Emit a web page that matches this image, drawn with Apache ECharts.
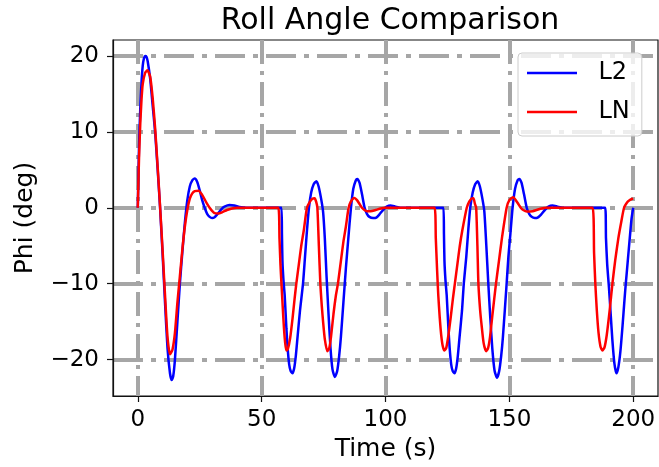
<!DOCTYPE html>
<html>
<head>
<meta charset="utf-8">
<script src="https://cdn.jsdelivr.net/npm/echarts@6/dist/echarts.min.js"></script>
<style>
  html, body { margin: 0; padding: 0; background: #fff; }
  #chart { width: 659px; height: 467px; }
</style>
</head>
<body>
<div id="chart"></div>
<script>
// values (time in s, roll angle in deg)
var l2Time = [
  0, 0.5, 1, 1.5, 2, 2.5, 3, 3.5, 4, 5, 6, 7, 8, 9, 10, 11, 12, 13, 13.7, 14.3,
  15, 16, 17, 18, 19, 20, 21, 22, 23, 24, 25, 26, 27, 28, 29, 30, 31, 32, 33, 34,
  35, 37, 39, 41, 44,
  58.0, 58.2, 58.4, 58.8, 59.3, 60, 60.5, 61.1, 61.7, 62.4, 63.1, 63.8, 64.5, 65.5,
  66.7, 67.5, 68.3, 69.1, 70, 71, 72.1, 73, 74, 74.8, 75.5, 76.2, 77, 77.8, 78.6,
  79.6, 80.5, 81.3, 82, 83, 84, 85, 86, 87, 88, 88.6, 89.5, 90.5, 91.5, 92.5, 93.5,
  95, 96.3, 97.5, 99, 100.5, 102, 104, 106,
  123.4, 123.6, 123.8, 124.2, 124.7, 125.4, 125.9, 126.5, 127.1, 127.8, 128.5, 129.2,
  129.9, 130.9, 131.6, 132.6, 133.4, 134.2, 135.2, 136.2, 137.2, 138.1, 139.1, 139.9,
  140.7, 141.5, 142.3, 143.1, 144, 145, 145.9, 146.7, 147.4, 148.9, 149.6, 150.4,
  151.3, 152.3, 153.3, 154, 154.9, 155.9, 157, 158, 159, 160.3, 161.4, 162.8, 164.3,
  165.8, 167.4, 169.4, 171.4,
  188.7, 189.0, 189.5, 190.2, 190.9, 191.6, 192.4, 193.2, 194, 194.8, 195.7, 196.5,
  197, 197.8, 198.6, 199.3, 200
];
var l2Phi = [
  0, 8, 13, 16.5, 18.7, 19.7, 20, 19.9, 19.3, 17, 13.5, 10, 5.2, 0, -6, -12.5, -18.5, -21.8, -22.7, -22.2,
  -20, -15, -10, -5.8, -2, 1, 2.8, 3.6, 3.85, 3.4, 2.3, 1, 0, -0.8, -1.2, -1.35, -1.25, -0.9, -0.5, -0.1,
  0.15, 0.35, 0.3, 0.1, 0,
  0, -3.5, -7, -9.5, -11.5, -15.9, -18.5, -20.6, -21.5, -21.8, -21.2, -19.5, -17, -13.5,
  -10, -6.5, -3, 0, 2, 3.1, 3.5, 2.8, 1.2, -0.5, -4, -9, -14, -18.5, -21.3,
  -22.3, -21.5, -19.5, -17, -12.5, -8, -4, -0.2, 2.5, 3.6, 3.8, 3.3, 1.8, 0.1, -0.8, -1.2,
  -1.35, -1.3, -0.9, -0.3, 0.15, 0.3, 0.15, 0,
  0, -3.5, -7, -9.5, -11.5, -15.9, -18.5, -20.6, -21.5, -21.8, -21.2, -19.5,
  -17, -13.5, -10, -6.5, -3, 0, 2, 3.1, 3.5, 2.8, 1.2, -0.5,
  -5, -10, -14.5, -18.5, -21.4, -22.4, -21.5, -19.5, -17, -10, -6.5, -3.5,
  0, 2.5, 3.6, 3.8, 3.3, 1.8, 0, -0.8, -1.2, -1.35, -1.3, -0.9, -0.3,
  0.15, 0.3, 0.15, 0,
  0, -4, -7.5, -10.5, -14, -17.5, -20.5, -21.8, -21, -19, -15.5, -12,
  -10, -7, -4, -1.5, 0
];

var lnTime = [
  0, 0.5, 1, 1.5, 2, 3, 3.9, 5, 6, 7, 8, 9, 10, 11, 12, 13, 14, 15, 16, 17,
  18, 19, 20, 21, 22, 23, 24.5, 26, 27, 28, 29, 30, 31, 32.5, 34, 36, 38, 40,
  56.7, 57.2, 57.6, 58, 58.5, 59, 59.5, 60, 60.6, 61.5, 62.5, 63.3, 64, 65, 66, 67,
  68.3, 69.5, 70.5, 71.4, 72, 72.5, 73.1, 73.7, 74.3, 74.8, 75.5, 76.5, 77.3, 78, 79,
  80, 80.8, 82, 83, 84, 85.1, 86, 87, 87.5, 88.5, 89.5, 90.5, 91.5, 92.5, 94, 96, 98, 100,
  119.8, 120.3, 120.8, 121.3, 121.9, 122.5, 123.1, 123.8, 124.5, 125.3, 126.3, 127.2,
  128, 129, 130, 131, 132.8, 133.8, 134.7, 135.5, 136.1, 136.6, 137.1, 137.5, 138.2,
  138.8, 139.6, 140.6, 141.4, 142.2, 143.2, 144.6, 145.8, 147, 148.9, 150, 151.6, 152.6,
  153.6, 154.6, 155.6, 157, 159.4, 161, 163, 165,
  183.6, 184.2, 184.7, 185.3, 186, 186.8, 187.6, 188.4, 189.3, 190.5, 191.6, 192.7,
  194, 195.2, 196.3, 197.5, 198.5, 199.4, 200
];
var lnPhi = [
  0, 6.5, 11, 14.2, 16.3, 17.8, 18.1, 17.3, 14.5, 10.5, 5.5, 0.2, -5.5, -11.5, -17, -19.3, -18.7, -16.5, -12.5, -9,
  -5.5, -2.5, -0.3, 1.2, 1.9, 2.2, 2.25, 1.7, 1.1, 0.5, 0, -0.4, -0.7, -0.75, -0.6, -0.3, -0.1, 0,
  0, -4, -7.5, -10, -13, -15.8, -17.8, -18.8, -18.6, -17.2, -14.5, -12, -10, -7.5, -5, -3,
  0, 0.8, 1.2, 1.25, 0.8, 0, -5, -10, -13, -15, -17.3, -18.9, -18.5, -17, -14,
  -11.5, -10, -7, -4.5, -2.5, 0, 0.8, 1.25, 1.3, 1.0, 0.5, 0, -0.3, -0.45, -0.45, -0.3, -0.1, 0,
  0, -4, -8, -11.5, -14.5, -16.8, -18.2, -18.8, -18.5, -17, -14.5, -12,
  -10, -7.5, -5, -3, 0, 0.8, 1.2, 1.25, 0.5, 0, -5, -10, -13.5,
  -15.5, -17.8, -18.9, -18.5, -17, -14, -10, -7, -4, 0, 1, 1.4, 1.0,
  0.5, 0, -0.3, -0.5, -0.45, -0.3, -0.1, 0,
  0, -6, -10, -13.5, -16.5, -18.3, -18.8, -18.4, -16.8, -13.5, -10, -7,
  -4, -1.8, 0, 0.7, 1.0, 1.15, 1.2
];

var xTicks = [0, 50, 100, 150, 200];
var yTicks = [-20, -10, 0, 10, 20];

function pairs(ts, vs) {
  return ts.map(function (t, i) { return [t, vs[i]]; });
}

var chart = echarts.init(document.getElementById('chart'), null, { renderer: 'canvas' });
var font = 'DejaVu Sans';
var lineIcon = 'path://M0,0 L100,0 L100,5 L0,5 Z';

var option = {
  animation: false,
  backgroundColor: '#fff',
  textStyle: { fontFamily: font },
  title: {
    text: 'Roll Angle Comparison',
    left: 385,
    top: 1,
    textAlign: 'center',
    textStyle: { fontFamily: font, fontSize: 30, fontWeight: 'normal', color: '#000' }
  },
  legend: {
    orient: 'vertical',
    left: 518,
    top: 53,
    padding: [8, 12, 12, 9],
    itemWidth: 55,
    itemHeight: 2.5,
    itemGap: 15,
    icon: lineIcon,
    backgroundColor: 'rgba(255,255,255,0.8)',
    borderColor: '#cccccc',
    borderWidth: 1,
    borderRadius: 4,
    textStyle: { fontFamily: font, fontSize: 24, color: '#000', padding: [0, 0, 0, 14] },
    data: ['L2', 'LN']
  },
  grid: {
    left: 113,
    right: 1,
    top: 40,
    bottom: 71,
    show: true,
    borderColor: '#111',
    borderWidth: 1.2
  },
  xAxis: {
    type: 'value',
    min: -10,
    max: 210,
    name: 'Time (s)',
    nameLocation: 'middle',
    nameGap: 38,
    nameTextStyle: { fontFamily: font, fontSize: 25, color: '#000' },
    axisLine: { show: true, onZero: false, lineStyle: { color: '#111', width: 1.2 } },
    axisTick: { show: true, customValues: xTicks, length: 6, lineStyle: { color: '#111', width: 1.2 } },
    axisLabel: { customValues: xTicks, margin: 13, fontFamily: font, fontSize: 23, color: '#000' },
    splitLine: { show: true, lineStyle: { color: '#a6a6a6', width: 4, type: [24, 7, 4, 7] } }
  },
  yAxis: {
    type: 'value',
    min: -24.8,
    max: 22.1,
    name: 'Phi (deg)',
    nameLocation: 'middle',
    nameGap: 75,
    nameTextStyle: { fontFamily: font, fontSize: 25, color: '#000' },
    axisLine: { show: true, onZero: false, lineStyle: { color: '#111', width: 1.2 } },
    axisTick: { show: true, customValues: yTicks, length: 6, lineStyle: { color: '#111', width: 1.2 } },
    axisLabel: { customValues: yTicks, margin: 14, fontFamily: font, fontSize: 23, color: '#000',
      formatter: function (v) { return v < 0 ? '\u2212' + Math.abs(v) : String(v); } },
    splitLine: { show: true, lineStyle: { color: '#a6a6a6', width: 4, type: [30, 8, 5, 8] } }
  },
  series: [
    {
      name: 'L2',
      type: 'line',
      data: pairs(l2Time, l2Phi),
      showSymbol: false,
      symbol: 'none',
      smooth: 0.2,
      lineStyle: { color: '#0000ff', width: 2.5 },
      itemStyle: { color: '#0000ff' },
      z: 3
    },
    {
      name: 'LN',
      type: 'line',
      data: pairs(lnTime, lnPhi),
      showSymbol: false,
      symbol: 'none',
      smooth: 0.2,
      lineStyle: { color: '#ff0000', width: 2.5 },
      itemStyle: { color: '#ff0000' },
      z: 4
    }
  ]
};

chart.setOption(option);
</script>
</body>
</html>
